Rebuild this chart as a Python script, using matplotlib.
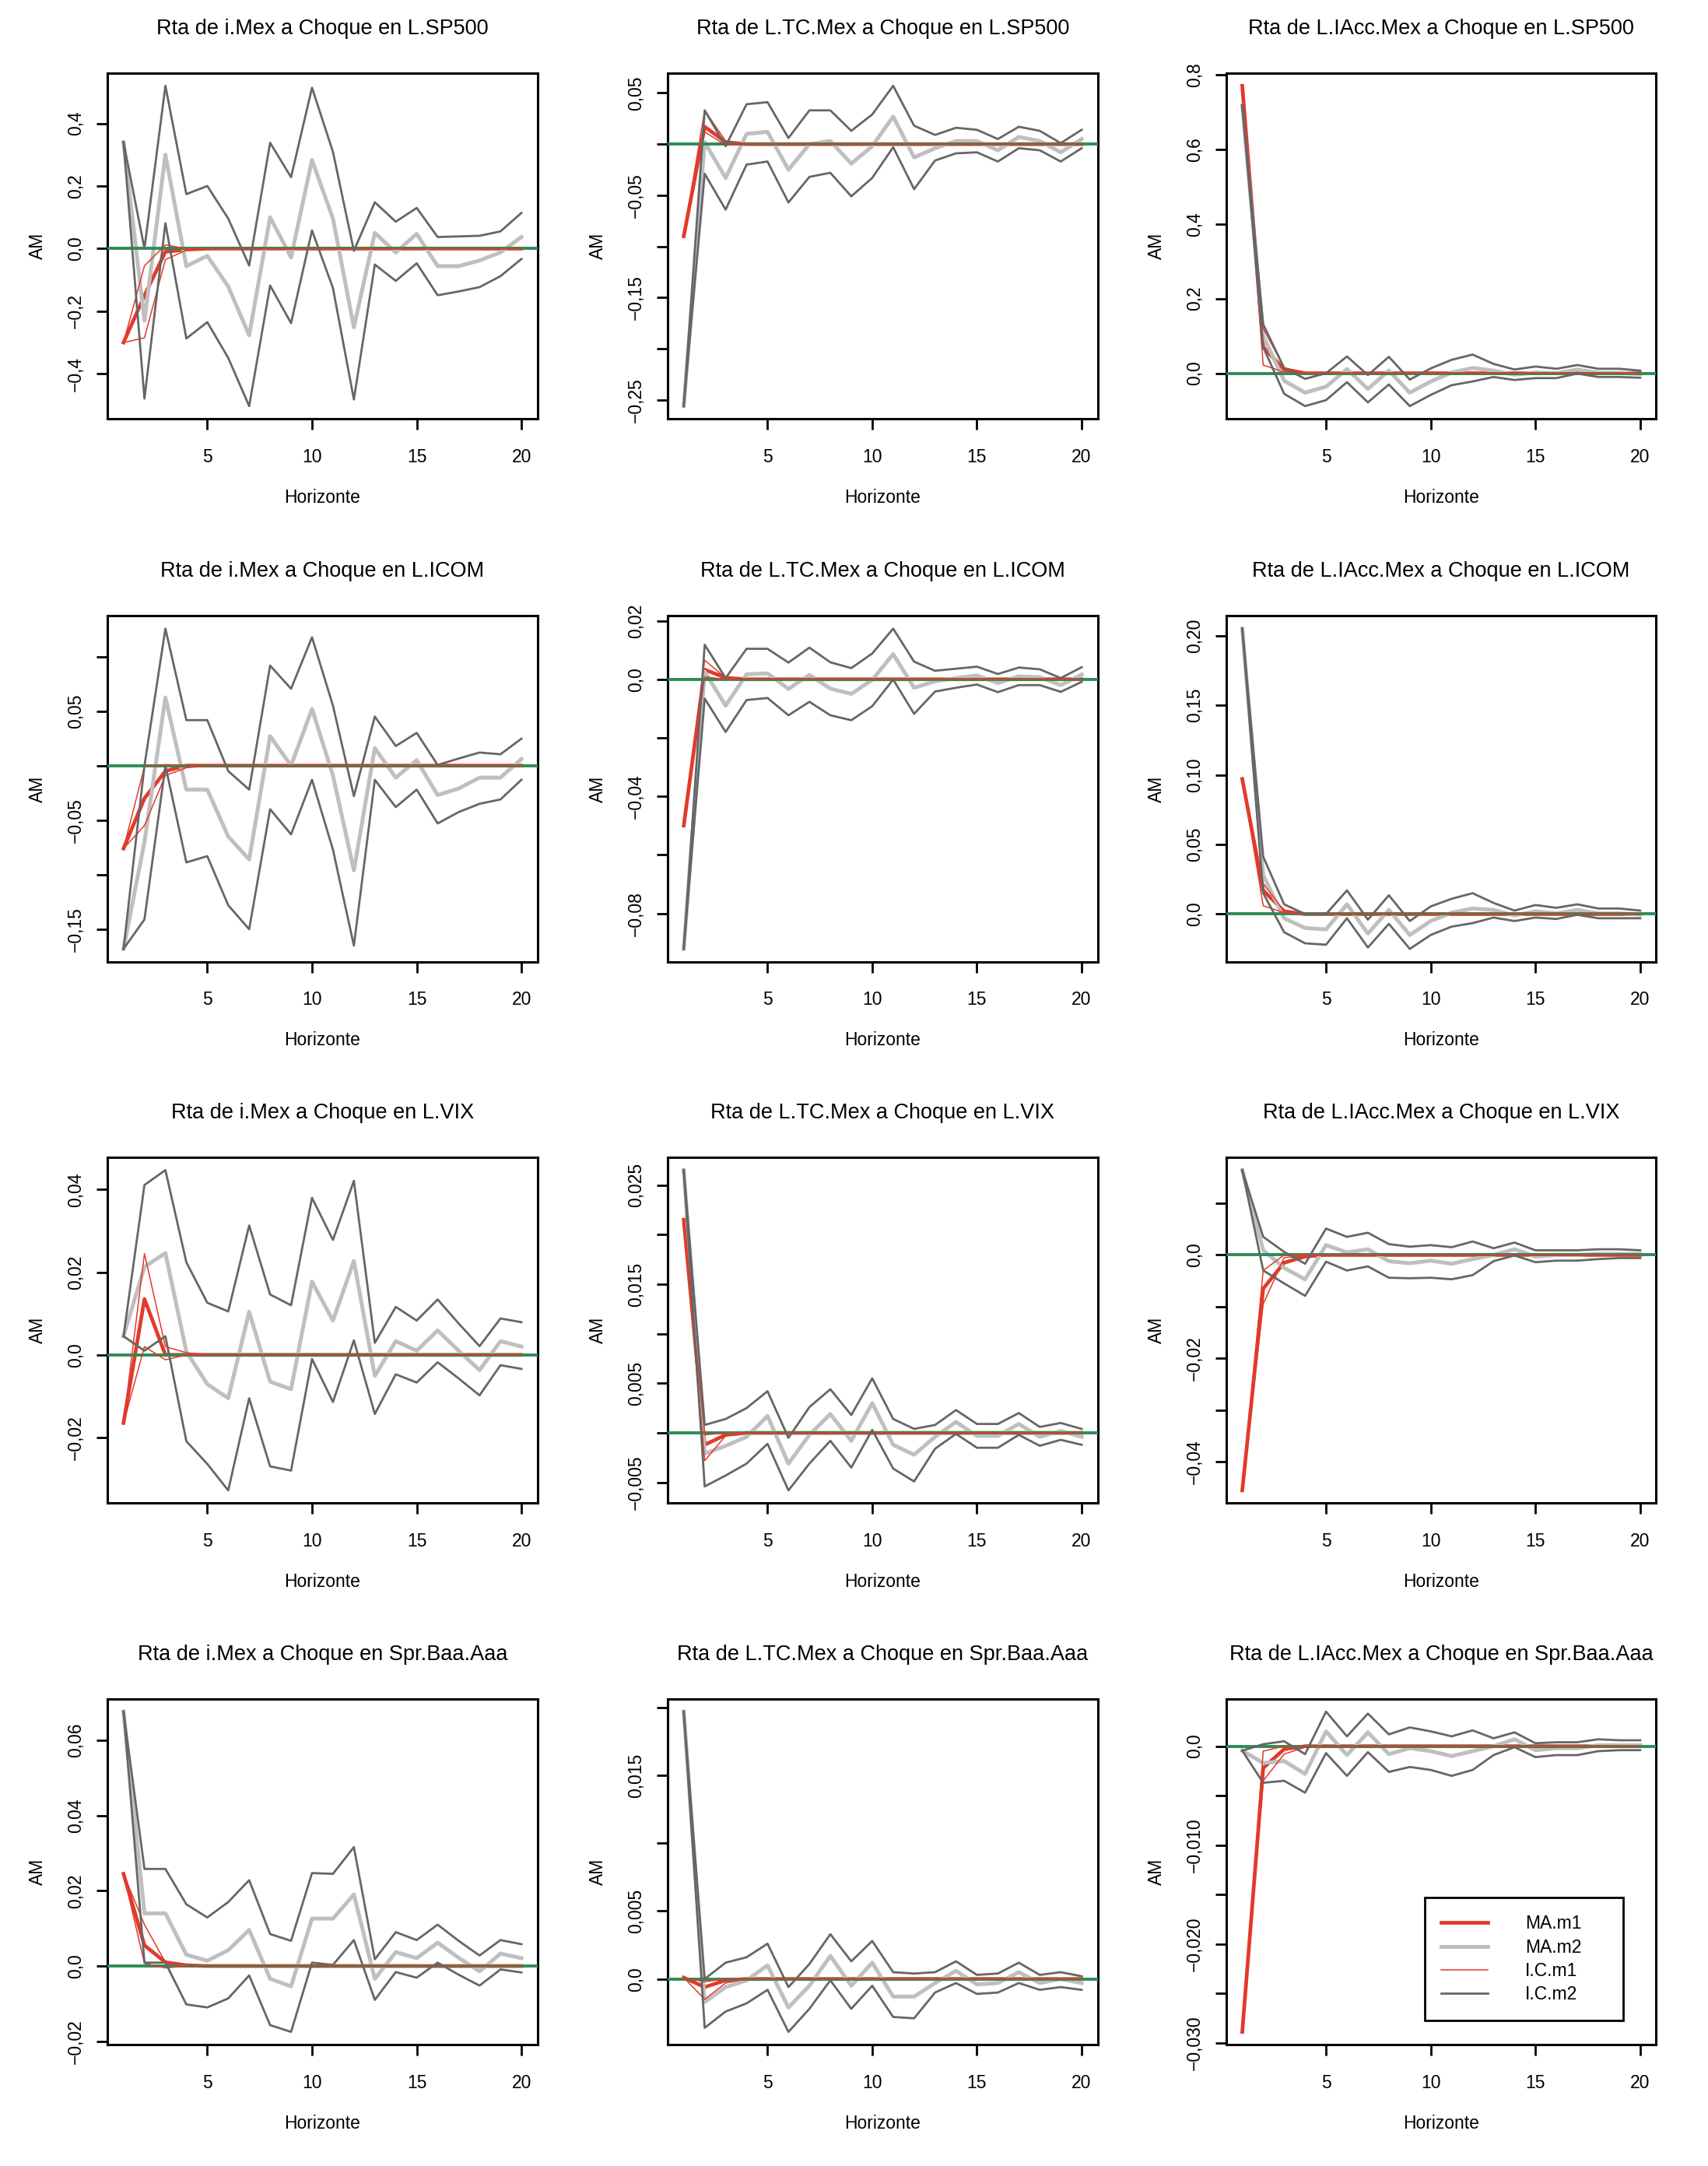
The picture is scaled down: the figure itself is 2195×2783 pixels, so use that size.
import matplotlib
matplotlib.use("Agg")
import matplotlib.pyplot as plt
import numpy as np
from matplotlib.lines import Line2D

plt.rcParams["font.family"] = ["Liberation Sans", "DejaVu Sans"]

horizon = list(range(1, 21))

titles = [
    "Rta de i.Mex a Choque en L.SP500",
    "Rta de L.TC.Mex a Choque en L.SP500",
    "Rta de L.IAcc.Mex a Choque en L.SP500",
    "Rta de i.Mex a Choque en L.ICOM",
    "Rta de L.TC.Mex a Choque en L.ICOM",
    "Rta de L.IAcc.Mex a Choque en L.ICOM",
    "Rta de i.Mex a Choque en L.VIX",
    "Rta de L.TC.Mex a Choque en L.VIX",
    "Rta de L.IAcc.Mex a Choque en L.VIX",
    "Rta de i.Mex a Choque en Spr.Baa.Aaa",
    "Rta de L.TC.Mex a Choque en Spr.Baa.Aaa",
    "Rta de L.IAcc.Mex a Choque en Spr.Baa.Aaa",
]

# --- panel 1: i.Mex / L.SP500
p1_ma1 = [-0.30, -0.15, -0.01, -0.003, 0, 0, 0, 0, 0, 0, 0, 0, 0, 0, 0, 0, 0, 0, 0, 0]
p1_up1 = [-0.30, -0.055, 0.012, 0.0, 0, 0, 0, 0, 0, 0, 0, 0, 0, 0, 0, 0, 0, 0, 0, 0]
p1_lo1 = [-0.30, -0.285, -0.035, -0.005, 0, 0, 0, 0, 0, 0, 0, 0, 0, 0, 0, 0, 0, 0, 0, 0]
p1_ma2 = [0.34, -0.23, 0.30, -0.056, -0.023, -0.121, -0.277, 0.10, -0.028, 0.283,
          0.096, -0.251, 0.05, -0.012, 0.047, -0.056, -0.056, -0.038, -0.012, 0.037]
p1_up2 = [0.34, 0.00, 0.52, 0.174, 0.20, 0.096, -0.054, 0.338, 0.228, 0.514,
          0.309, -0.007, 0.148, 0.086, 0.13, 0.037, 0.039, 0.041, 0.055, 0.114]
p1_lo2 = [0.34, -0.479, 0.081, -0.287, -0.235, -0.349, -0.503, -0.118, -0.238, 0.058,
          -0.126, -0.482, -0.051, -0.103, -0.047, -0.149, -0.137, -0.123, -0.088, -0.033]

# --- panel 2: L.TC.Mex / L.SP500
p2_ma1 = [-0.09, 0.017, 0.002, 0, 0, 0, 0, 0, 0, 0, 0, 0, 0, 0, 0, 0, 0, 0, 0, 0]
p2_up1 = [-0.09, 0.033, 0.003, 0, 0, 0, 0, 0, 0, 0, 0, 0, 0, 0, 0, 0, 0, 0, 0, 0]
p2_lo1 = [-0.09, 0.012, -0.001, 0, 0, 0, 0, 0, 0, 0, 0, 0, 0, 0, 0, 0, 0, 0, 0, 0]
p2_ma2 = [-0.256, 0.002, -0.033, 0.010, 0.012, -0.025, 0.0, 0.003, -0.019, -0.002,
          0.027, -0.013, -0.004, 0.003, 0.003, -0.006, 0.007, 0.003, -0.008, 0.005]
p2_up2 = [-0.256, 0.033, -0.002, 0.039, 0.041, 0.006, 0.033, 0.033, 0.013, 0.029,
          0.057, 0.018, 0.009, 0.016, 0.014, 0.005, 0.017, 0.013, 0.001, 0.014]
p2_lo2 = [-0.256, -0.029, -0.064, -0.020, -0.017, -0.057, -0.032, -0.028, -0.051, -0.033,
          -0.003, -0.044, -0.016, -0.009, -0.008, -0.017, -0.004, -0.006, -0.017, -0.004]

# --- panel 3: L.IAcc.Mex / L.SP500
p3_ma1 = [0.77, 0.07, 0.01, 0.0, 0, 0, 0, 0, 0, 0, 0, 0, 0, 0, 0, 0, 0, 0, 0, 0]
p3_up1 = [0.77, 0.12, 0.015, 0.002, 0, 0, 0, 0, 0, 0, 0, 0, 0, 0, 0, 0, 0, 0, 0, 0]
p3_lo1 = [0.77, 0.022, 0.003, 0, 0, 0, 0, 0, 0, 0, 0, 0, 0, 0, 0, 0, 0, 0, 0, 0]
p3_ma2 = [0.718, 0.10, -0.02, -0.052, -0.036, 0.011, -0.042, 0.007, -0.052, -0.022,
          0.002, 0.014, 0.007, -0.004, 0.002, 0.0, 0.01, 0.001, 0.001, -0.002]
p3_up2 = [0.718, 0.131, 0.014, -0.015, 0.0, 0.045, -0.005, 0.044, -0.017, 0.013,
          0.036, 0.05, 0.025, 0.01, 0.018, 0.012, 0.022, 0.012, 0.012, 0.007]
p3_lo2 = [0.718, 0.07, -0.055, -0.088, -0.072, -0.024, -0.078, -0.03, -0.088, -0.058,
          -0.032, -0.022, -0.01, -0.018, -0.013, -0.013, -0.001, -0.01, -0.01, -0.012]

# --- panel 4: i.Mex / L.ICOM
p4_ma1 = [-0.076, -0.03, -0.005, 0, 0, 0, 0, 0, 0, 0, 0, 0, 0, 0, 0, 0, 0, 0, 0, 0]
p4_up1 = [-0.076, -0.001, 0.001, 0, 0, 0, 0, 0, 0, 0, 0, 0, 0, 0, 0, 0, 0, 0, 0, 0]
p4_lo1 = [-0.076, -0.055, -0.009, -0.002, 0, 0, 0, 0, 0, 0, 0, 0, 0, 0, 0, 0, 0, 0, 0, 0]
p4_ma2 = [-0.168, -0.07, 0.0625, -0.022, -0.022, -0.065, -0.086, 0.027, 0.0, 0.052,
          -0.009, -0.096, 0.016, -0.011, 0.005, -0.027, -0.021, -0.011, -0.011, 0.006]
p4_up2 = [-0.168, 0.0, 0.1256, 0.0417, 0.0417, -0.005, -0.022, 0.0917, 0.0705, 0.1176,
          0.055, -0.028, 0.045, 0.018, 0.030, 0.0006, 0.0065, 0.012, 0.0104, 0.0247]
p4_lo2 = [-0.168, -0.141, 0.0, -0.0887, -0.083, -0.128, -0.150, -0.040, -0.063, -0.013,
          -0.077, -0.165, -0.013, -0.038, -0.022, -0.053, -0.0426, -0.035, -0.031, -0.013]

# --- panel 5: L.TC.Mex / L.ICOM
p5_ma1 = [-0.050, 0.0033, 0.0005, 0, 0, 0, 0, 0, 0, 0, 0, 0, 0, 0, 0, 0, 0, 0, 0, 0]
p5_up1 = [-0.050, 0.0065, 0.0005, 0, 0, 0, 0, 0, 0, 0, 0, 0, 0, 0, 0, 0, 0, 0, 0, 0]
p5_lo1 = [-0.050, 0.0008, 0.0, 0, 0, 0, 0, 0, 0, 0, 0, 0, 0, 0, 0, 0, 0, 0, 0, 0]
p5_ma2 = [-0.0921, 0.0026, -0.009, 0.0017, 0.002, -0.0033, 0.0015, -0.0032, -0.005, -0.0002,
          0.0086, -0.0029, -0.0007, 0.0004, 0.0013, -0.0013, 0.001, 0.0007, -0.002, 0.0016]
p5_up2 = [-0.0921, 0.0118, 0.0004, 0.0104, 0.0104, 0.0057, 0.0108, 0.0058, 0.0038, 0.0088,
          0.0173, 0.006, 0.0029, 0.0036, 0.0043, 0.0018, 0.004, 0.0034, 0.0004, 0.0041]
p5_lo2 = [-0.0921, -0.0066, -0.018, -0.0071, -0.0064, -0.0123, -0.0077, -0.0123, -0.014, -0.0092,
          -0.0001, -0.0118, -0.0042, -0.0029, -0.0018, -0.0044, -0.002, -0.002, -0.0043, -0.0009]

# --- panel 6: L.IAcc.Mex / L.ICOM
p6_ma1 = [0.097, 0.017, 0.002, 0, 0, 0, 0, 0, 0, 0, 0, 0, 0, 0, 0, 0, 0, 0, 0, 0]
p6_up1 = [0.097, 0.022, 0.002, 0, 0, 0, 0, 0, 0, 0, 0, 0, 0, 0, 0, 0, 0, 0, 0, 0]
p6_lo1 = [0.097, 0.006, 0.001, 0, 0, 0, 0, 0, 0, 0, 0, 0, 0, 0, 0, 0, 0, 0, 0, 0]
p6_ma2 = [0.205, 0.028, -0.003, -0.010, -0.011, 0.007, -0.014, 0.003, -0.015, -0.005,
          0.001, 0.004, 0.003, -0.001, 0.002, 0.0005, 0.003, 0.0005, 0.0005, -0.0003]
p6_up2 = [0.205, 0.0412, 0.007, 0.0, 0.0, 0.017, -0.004, 0.0135, -0.005, 0.0055,
          0.011, 0.015, 0.008, 0.0025, 0.0065, 0.0045, 0.007, 0.004, 0.004, 0.0025]
p6_lo2 = [0.205, 0.015, -0.013, -0.021, -0.022, -0.003, -0.024, -0.007, -0.025, -0.015,
          -0.009, -0.0065, -0.0025, -0.005, -0.0025, -0.0035, -0.0005, -0.003, -0.003, -0.003]

# --- panel 7: i.Mex / L.VIX
p7_ma1 = [-0.0165, 0.0135, 0.0, 0, 0, 0, 0, 0, 0, 0, 0, 0, 0, 0, 0, 0, 0, 0, 0, 0]
p7_up1 = [-0.0165, 0.0245, 0.002, 0.0005, 0, 0, 0, 0, 0, 0, 0, 0, 0, 0, 0, 0, 0, 0, 0, 0]
p7_lo1 = [-0.0165, 0.002, -0.0012, 0, 0, 0, 0, 0, 0, 0, 0, 0, 0, 0, 0, 0, 0, 0, 0, 0]
p7_ma2 = [0.0045, 0.0213, 0.0246, 0.0008, -0.0071, -0.0105, 0.0104, -0.0065, -0.0083, 0.0177,
          0.0083, 0.0227, -0.0051, 0.0033, 0.001, 0.0059, 0.001, -0.0037, 0.0033, 0.002]
p7_up2 = [0.0045, 0.0411, 0.0447, 0.0224, 0.0126, 0.0105, 0.0313, 0.0146, 0.012, 0.038,
          0.0278, 0.0421, 0.0029, 0.0116, 0.0083, 0.0134, 0.0076, 0.0021, 0.0088, 0.0079]
p7_lo2 = [0.0045, 0.001, 0.0045, -0.0209, -0.0264, -0.0328, -0.0105, -0.027, -0.028, -0.001,
          -0.0114, 0.0035, -0.0143, -0.0047, -0.0067, -0.0018, -0.0057, -0.0098, -0.0025, -0.0034]

# --- panel 8: L.TC.Mex / L.VIX
p8_ma1 = [0.0215, -0.0012, -0.0002, 0, 0, 0, 0, 0, 0, 0, 0, 0, 0, 0, 0, 0, 0, 0, 0, 0]
p8_up1 = [0.0215, -0.0002, 0.0, 0, 0, 0, 0, 0, 0, 0, 0, 0, 0, 0, 0, 0, 0, 0, 0, 0]
p8_lo1 = [0.0215, -0.0028, -0.0003, 0, 0, 0, 0, 0, 0, 0, 0, 0, 0, 0, 0, 0, 0, 0, 0, 0]
p8_ma2 = [0.0265, -0.0021, -0.0013, -0.0004, 0.0017, -0.0031, -0.0002, 0.0019, -0.0008, 0.003,
          -0.0012, -0.0022, -0.0004, 0.0011, -0.0003, -0.0003, 0.0009, -0.0004, 0.0002, -0.0004]
p8_up2 = [0.0265, 0.0008, 0.0014, 0.0025, 0.0042, -0.0005, 0.0026, 0.0044, 0.0018, 0.0055,
          0.0014, 0.0004, 0.0008, 0.0023, 0.0009, 0.0009, 0.002, 0.0006, 0.001, 0.0004]
p8_lo2 = [0.0265, -0.0054, -0.0043, -0.0031, -0.0011, -0.0058, -0.0031, -0.0008, -0.0035, 0.0003,
          -0.0036, -0.0049, -0.0016, -0.0001, -0.0015, -0.0015, -0.0002, -0.0013, -0.0007, -0.0012]

# --- panel 9: L.IAcc.Mex / L.VIX
p9_ma1 = [-0.0455, -0.0065, -0.0015, -0.0003, 0, 0, 0, 0, 0, 0, 0, 0, 0, 0, 0, 0, 0, 0, 0, 0]
p9_up1 = [-0.0455, -0.003, 0.0, 0, 0, 0, 0, 0, 0, 0, 0, 0, 0, 0, 0, 0, 0, 0, 0, 0]
p9_lo1 = [-0.0455, -0.0095, -0.0005, -0.0002, 0, 0, 0, 0, 0, 0, 0, 0, 0, 0, 0, 0, 0, 0, 0, 0]
p9_ma2 = [0.0164, 0.0009, -0.0025, -0.0047, 0.0019, 0.0005, 0.0011, -0.0012, -0.0016, -0.0011,
          -0.0017, -0.0008, 0.0, 0.0011, -0.0003, 0.0, 0.0, 0.0002, 0.0002, 0.0002]
p9_up2 = [0.0164, 0.0035, 0.0006, -0.0017, 0.0051, 0.0035, 0.0043, 0.0021, 0.0016, 0.0019,
          0.0015, 0.0026, 0.0013, 0.0024, 0.0009, 0.0009, 0.0009, 0.0011, 0.0011, 0.0009]
p9_lo2 = [0.0164, -0.003, -0.0055, -0.0079, -0.0013, -0.003, -0.0022, -0.0044, -0.0045, -0.0044,
          -0.0047, -0.0039, -0.0012, -0.0001, -0.0014, -0.0011, -0.0011, -0.0008, -0.0006, -0.0006]

# --- panel 10: i.Mex / Spr.Baa.Aaa
p10_ma1 = [0.0245, 0.0055, 0.001, 0.0002, 0, 0, 0, 0, 0, 0, 0, 0, 0, 0, 0, 0, 0, 0, 0, 0]
p10_up1 = [0.0245, 0.011, 0.001, 0, 0, 0, 0, 0, 0, 0, 0, 0, 0, 0, 0, 0, 0, 0, 0, 0]
p10_lo1 = [0.0245, 0.0007, -0.0005, 0, 0, 0, 0, 0, 0, 0, 0, 0, 0, 0, 0, 0, 0, 0, 0, 0]
p10_ma2 = [0.0676, 0.014, 0.014, 0.003, 0.0014, 0.0042, 0.0096, -0.0034, -0.0054, 0.0126,
           0.0126, 0.019, -0.0034, 0.0037, 0.0021, 0.0062, 0.0022, -0.0014, 0.0033, 0.0021]
p10_up2 = [0.0676, 0.0258, 0.0258, 0.0164, 0.0129, 0.017, 0.0228, 0.0085, 0.0067, 0.0247,
           0.0245, 0.0316, 0.0018, 0.009, 0.0069, 0.011, 0.0067, 0.0028, 0.0069, 0.0058]
p10_lo2 = [0.0676, 0.0009, 0.0009, -0.0102, -0.011, -0.0086, -0.0025, -0.0157, -0.0175, 0.0009,
           0.0003, 0.0069, -0.009, -0.0016, -0.0031, 0.0009, -0.0023, -0.0052, -0.0009, -0.0017]

# --- panel 11: L.TC.Mex / Spr.Baa.Aaa
p11_ma1 = [0.0001, -0.0006, -0.0001, 0, 0, 0, 0, 0, 0, 0, 0, 0, 0, 0, 0, 0, 0, 0, 0, 0]
p11_up1 = [0.0001, -0.0002, 0.0, 0, 0, 0, 0, 0, 0, 0, 0, 0, 0, 0, 0, 0, 0, 0, 0, 0]
p11_lo1 = [0.0001, -0.0015, -0.0003, 0, 0, 0, 0, 0, 0, 0, 0, 0, 0, 0, 0, 0, 0, 0, 0, 0]
p11_ma2 = [0.0197, -0.0017, -0.0006, -0.0001, 0.001, -0.0021, -0.0005, 0.0017, -0.0005, 0.0012,
           -0.0013, -0.0013, -0.0003, 0.0006, -0.0004, -0.0003, 0.0005, -0.0003, 0.0, -0.0003]
p11_up2 = [0.0197, 0.0, 0.0012, 0.0016, 0.0026, -0.0006, 0.0011, 0.0033, 0.0013, 0.0028,
           0.0005, 0.0004, 0.0005, 0.0013, 0.0003, 0.0004, 0.0012, 0.0003, 0.0005, 0.0002]
p11_lo2 = [0.0197, -0.0036, -0.0024, -0.0018, -0.0008, -0.0039, -0.0022, -0.0001, -0.0022, -0.0005,
           -0.0028, -0.0029, -0.001, -0.0003, -0.0011, -0.001, -0.0003, -0.0008, -0.0006, -0.0008]

# --- panel 12: L.IAcc.Mex / Spr.Baa.Aaa
p12_ma1 = [-0.0289, -0.0022, -0.0003, 0, 0, 0, 0, 0, 0, 0, 0, 0, 0, 0, 0, 0, 0, 0, 0, 0]
p12_up1 = [-0.0289, -0.0005, 0.0, 0, 0, 0, 0, 0, 0, 0, 0, 0, 0, 0, 0, 0, 0, 0, 0, 0]
p12_lo1 = [-0.0289, -0.0035, -0.0008, -0.0001, 0, 0, 0, 0, 0, 0, 0, 0, 0, 0, 0, 0, 0, 0, 0, 0]
p12_ma2 = [-0.00045, -0.0017, -0.0015, -0.0028, 0.0015, -0.0009, 0.0014, -0.0008, -0.0002, -0.0005,
           -0.001, -0.0005, 0.0, 0.0007, -0.0004, -0.0002, -0.0002, 0.0001, 0.0001, 0.0001]
p12_up2 = [-0.00045, 0.0002, 0.0005, -0.0008, 0.0035, 0.001, 0.0033, 0.0012, 0.0019, 0.0015,
           0.001, 0.0016, 0.0008, 0.0014, 0.0003, 0.0004, 0.0004, 0.0007, 0.0006, 0.0006]
p12_lo2 = [-0.00045, -0.0037, -0.0035, -0.0047, -0.0007, -0.003, -0.0006, -0.0026, -0.0021, -0.0024,
           -0.003, -0.0024, -0.0009, -0.0001, -0.0011, -0.0009, -0.0009, -0.0005, -0.0004, -0.0004]

# y ticks and the labels R kept (blank = tick without label)
yticks = [
    [-0.4, -0.2, 0.0, 0.2, 0.4],
    [-0.25, -0.20, -0.15, -0.10, -0.05, 0.0, 0.05],
    [0.0, 0.2, 0.4, 0.6, 0.8],
    [-0.15, -0.10, -0.05, 0.0, 0.05, 0.10],
    [-0.08, -0.06, -0.04, -0.02, 0.0, 0.02],
    [0.0, 0.05, 0.10, 0.15, 0.20],
    [-0.02, 0.0, 0.02, 0.04],
    [-0.005, 0.0, 0.005, 0.010, 0.015, 0.020, 0.025],
    [-0.04, -0.03, -0.02, -0.01, 0.0, 0.01],
    [-0.02, 0.0, 0.02, 0.04, 0.06],
    [0.0, 0.005, 0.010, 0.015, 0.020],
    [-0.030, -0.025, -0.020, -0.015, -0.010, -0.005, 0.0],
]
ytick_labels = [
    ["\u22120,4", "\u22120,2", "0,0", "0,2", "0,4"],
    ["\u22120,25", "", "\u22120,15", "", "\u22120,05", "", "0,05"],
    ["0,0", "0,2", "0,4", "0,6", "0,8"],
    ["\u22120,15", "", "\u22120,05", "", "0,05", ""],
    ["\u22120,08", "", "\u22120,04", "", "0,0", "0,02"],
    ["0,0", "0,05", "0,10", "0,15", "0,20"],
    ["\u22120,02", "0,0", "0,02", "0,04"],
    ["\u22120,005", "", "0,005", "", "0,015", "", "0,025"],
    ["\u22120,04", "", "\u22120,02", "", "0,0", ""],
    ["\u22120,02", "0,0", "0,02", "0,04", "0,06"],
    ["0,0", "0,005", "", "0,015", ""],
    ["\u22120,030", "", "\u22120,020", "", "\u22120,010", "", "0,0"],
]
xticks = [5, 10, 15, 20]
legend_labels = ["MA.m1", "MA.m2", "I.C.m1", "I.C.m2"]

RED = "#e23a2a"
LIGHT = "#bfbfbf"
DARK = "#666666"
GREEN = "#2e8b57"


def draw_panel(ax, title, ma1, up1, lo1, ma2, up2, lo2, ticks, labels):
    ax.plot(horizon, ma1, color=RED, lw=3.4, zorder=2)
    ax.plot(horizon, ma2, color=LIGHT, lw=3.6, zorder=3)
    ax.axhline(0, color=GREEN, lw=2.8, zorder=4)
    ax.plot(horizon, up1, color=RED, lw=1.1, zorder=5)
    ax.plot(horizon, lo1, color=RED, lw=1.1, zorder=5)
    ax.plot(horizon, up2, color=DARK, lw=2.0, zorder=6)
    ax.plot(horizon, lo2, color=DARK, lw=2.0, zorder=6)

    allv = np.concatenate([ma1, up1, lo1, ma2, up2, lo2])
    lo, hi = allv.min(), allv.max()
    pad = 0.04 * (hi - lo)
    ax.set_ylim(lo - pad, hi + pad)
    ax.set_xlim(1 - 0.04 * 19, 20 + 0.04 * 19)

    ax.set_xticks(xticks)
    ax.set_xticklabels([str(t) for t in xticks])
    ax.set_yticks(ticks)
    ax.set_yticklabels(labels, rotation=90, va="center")

    ax.tick_params(direction="out", length=10, width=2, labelsize=16.5)
    ax.tick_params(axis="x", pad=17)
    ax.tick_params(axis="y", pad=11)
    for sp in ax.spines.values():
        sp.set_linewidth(2.2)

    ax.set_title(title, fontsize=19.5, pad=36)
    ax.set_xlabel("Horizonte", fontsize=16.5, labelpad=21)
    ax.set_ylabel("AM", fontsize=16.5, labelpad=19)


def main():
    panels = [
        (p1_ma1, p1_up1, p1_lo1, p1_ma2, p1_up2, p1_lo2),
        (p2_ma1, p2_up1, p2_lo1, p2_ma2, p2_up2, p2_lo2),
        (p3_ma1, p3_up1, p3_lo1, p3_ma2, p3_up2, p3_lo2),
        (p4_ma1, p4_up1, p4_lo1, p4_ma2, p4_up2, p4_lo2),
        (p5_ma1, p5_up1, p5_lo1, p5_ma2, p5_up2, p5_lo2),
        (p6_ma1, p6_up1, p6_lo1, p6_ma2, p6_up2, p6_lo2),
        (p7_ma1, p7_up1, p7_lo1, p7_ma2, p7_up2, p7_lo2),
        (p8_ma1, p8_up1, p8_lo1, p8_ma2, p8_up2, p8_lo2),
        (p9_ma1, p9_up1, p9_lo1, p9_ma2, p9_up2, p9_lo2),
        (p10_ma1, p10_up1, p10_lo1, p10_ma2, p10_up2, p10_lo2),
        (p11_ma1, p11_up1, p11_lo1, p11_ma2, p11_up2, p11_lo2),
        (p12_ma1, p12_up1, p12_lo1, p12_ma2, p12_up2, p12_lo2),
    ]

    fig = plt.figure(figsize=(21.95, 27.83), dpi=100)
    lefts = [0.063, 0.391, 0.718]
    bottoms = [0.8066, 0.556, 0.306, 0.056]
    width, height = 0.2516, 0.1597

    axes = []
    for i, series in enumerate(panels):
        r, c = divmod(i, 3)
        ax = fig.add_axes([lefts[c], bottoms[r], width, height])
        draw_panel(ax, titles[i], *series, yticks[i], ytick_labels[i])
        axes.append(ax)

    handles = [
        Line2D([], [], color=RED, lw=3.4),
        Line2D([], [], color=LIGHT, lw=3.6),
        Line2D([], [], color=RED, lw=1.1),
        Line2D([], [], color=DARK, lw=2.0),
    ]
    leg = axes[-1].legend(handles, legend_labels, loc="lower left",
                          bbox_to_anchor=(0.461, 0.07, 0.462, 0.33), mode="expand",
                          borderaxespad=0, fontsize=16.5, handlelength=2.6,
                          handletextpad=2.1, borderpad=0.95, labelspacing=0.32,
                          fancybox=False, framealpha=1)
    leg.get_frame().set_edgecolor("black")
    leg.get_frame().set_linewidth(2.0)

    fig.savefig("out.png", dpi=100)
    plt.close(fig)


if __name__ == "__main__":
    main()
